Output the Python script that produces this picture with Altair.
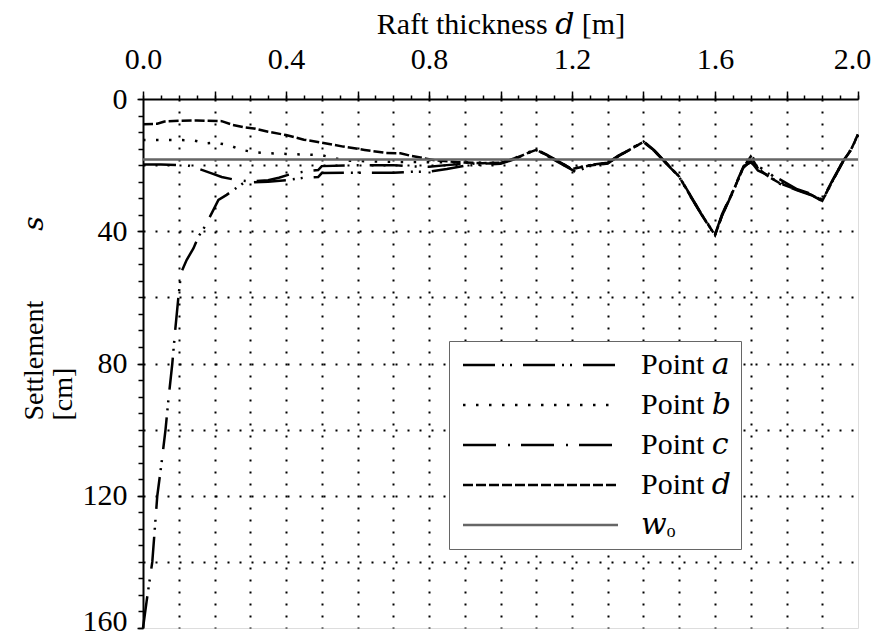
import altair as alt
import pandas as pd

# ---------------- data ----------------
series_names = ["Point 𝑎", "Point 𝑏", "Point 𝑐", "Point 𝑑", "𝑤ₒ"]

# Point a : steep curve starting at 160 cm
a_d = [0.0, 0.01, 0.026, 0.04, 0.052, 0.063, 0.072, 0.082, 0.09, 0.099, 0.105,
       0.108, 0.122, 0.141, 0.155, 0.173, 0.192, 0.211, 0.234, 0.26, 0.28, 0.3,
       0.35, 0.4, 0.45, 0.49, 0.5, 0.6, 0.7, 0.75, 0.8, 0.85, 0.9, 0.95, 1.0,
       1.04, 1.07, 1.1, 1.13, 1.16, 1.21, 1.25, 1.3, 1.33, 1.36, 1.4, 1.43, 1.46,
       1.5, 1.53, 1.56, 1.6, 1.62, 1.65, 1.68, 1.7, 1.72, 1.75, 1.78, 1.83, 1.87,
       1.9, 1.93, 1.96, 1.98, 2.0]
a_s = [160, 152, 140, 120, 110, 100, 90, 80, 70, 60, 54,
       52.2, 48.7, 45.2, 41.6, 38.6, 34.6, 30.5, 29.0, 27.0, 25.5, 25.2,
       25.0, 24.6, 23.8, 23.6, 22.4, 22.3, 22.3, 22.0, 22.0, 21.2, 20.2, 19.8, 19.6,
       18.2, 16.6, 15.5, 17.1, 19.0, 22.0, 20.3, 19.5, 17.3, 15.5, 12.9, 15.7, 19.1,
       23.6, 29.2, 34.6, 41.3, 35.2, 28.1, 20.7, 18.8, 21.6, 23.2, 25.6, 27.6, 29.1,
       30.9, 24.6, 18.6, 15.5, 10.9]

# Point b : dotted curve starting at ~12 cm
b_d = [0.0, 0.05, 0.1, 0.14, 0.178, 0.2, 0.239, 0.276, 0.31, 0.35, 0.4, 0.45,
       0.5, 0.54, 0.58, 0.7, 0.8, 0.9, 1.0,
       1.04, 1.07, 1.1, 1.13, 1.16, 1.2, 1.25, 1.3, 1.33, 1.36, 1.4, 1.43, 1.46,
       1.5, 1.53, 1.56, 1.6, 1.62, 1.65, 1.68, 1.7, 1.72, 1.75, 1.78, 1.83, 1.87,
       1.9, 1.93, 1.96, 1.98, 2.0]
b_s = [12.4, 12.4, 12.4, 12.5, 13.4, 13.2, 13.9, 15.4, 16.1, 16.4, 16.6, 16.8,
       17.0, 18.0, 18.7, 19.0, 19.1, 19.2, 19.3,
       18.0, 16.5, 15.4, 17.0, 18.8, 21.1, 20.0, 19.4, 17.2, 15.4, 12.9, 15.6, 19.0,
       23.5, 29.0, 34.5, 41.1, 35.0, 28.0, 20.5, 16.5, 20.4, 22.2, 25.0, 27.4, 28.9,
       30.7, 24.5, 18.5, 15.4, 10.8]

# Point c : curve starting at ~20 cm, dipping to ~25 cm
c_d = [0.0, 0.05, 0.1, 0.13, 0.15, 0.19, 0.22, 0.26, 0.3, 0.35, 0.38, 0.42, 0.46,
       0.49, 0.5, 0.6, 0.7, 0.75, 0.8, 0.85, 0.9, 0.95, 1.0,
       1.04, 1.07, 1.1, 1.13, 1.16, 1.2, 1.25, 1.3, 1.33, 1.36, 1.4, 1.43, 1.46,
       1.5, 1.53, 1.56, 1.6, 1.62, 1.65, 1.68, 1.7, 1.72, 1.75, 1.78, 1.83, 1.87,
       1.9, 1.93, 1.96, 1.98, 2.0]
c_s = [19.8, 19.8, 20.0, 20.2, 20.9, 22.4, 23.6, 24.5, 24.9, 24.6, 23.8, 22.5, 21.8,
       21.5, 20.3, 20.0, 20.0, 20.4, 20.5, 20.0, 19.6, 19.5, 19.4,
       17.9, 16.4, 15.3, 16.9, 18.7, 21.2, 19.9, 19.3, 17.1, 15.3, 12.8, 15.5, 18.9,
       23.4, 28.9, 34.4, 41.0, 34.8, 27.8, 20.3, 19.2, 20.8, 22.6, 24.2, 27.3, 28.7,
       30.5, 24.3, 18.4, 15.3, 10.7]

# Point d : dashed curve starting at ~7.6 cm
d_d = [0.0, 0.04, 0.06, 0.1, 0.15, 0.22, 0.25, 0.28, 0.31, 0.35, 0.4, 0.45, 0.5,
       0.56, 0.62, 0.68, 0.72, 0.75, 0.78, 0.82, 0.88, 0.95, 1.0,
       1.04, 1.07, 1.1, 1.13, 1.16, 1.2, 1.25, 1.3, 1.33, 1.36, 1.4, 1.43, 1.46,
       1.5, 1.53, 1.56, 1.6, 1.62, 1.65, 1.68, 1.7, 1.72, 1.75, 1.78, 1.83, 1.87,
       1.9, 1.93, 1.96, 1.98, 2.0]
d_s = [7.6, 7.5, 6.8, 6.6, 6.5, 6.7, 7.8, 8.5, 8.9, 9.9, 10.9, 12.3, 13.2,
       14.4, 15.4, 16.3, 16.4, 17.2, 17.8, 18.6, 19.1, 19.4, 19.3,
       18.1, 16.6, 15.4, 17.0, 18.9, 21.2, 20.1, 19.4, 17.2, 15.4, 13.0, 15.6, 19.0,
       23.5, 29.1, 34.5, 41.2, 35.1, 28.0, 20.6, 17.4, 21.0, 23.5, 25.4, 27.5, 29.0,
       30.8, 24.5, 18.5, 15.4, 10.8]

# w_o : reference settlement (horizontal line)
w_d = [0.0, 2.0]
w_s = [18.3, 18.3]

x_label_ticks = [0.0, 0.2, 0.4, 0.6, 0.8, 1.0, 1.2, 1.4, 1.6, 1.8, 2.0]
x_minor_ticks = [round(0.05 * i, 2) for i in range(41)]
x_grid = [round(0.1 * i, 1) for i in range(1, 20)]
y_label_ticks = [0, 40, 80, 120, 160]
y_minor_ticks = list(range(0, 161, 5))
y_grid = [20, 40, 60, 80, 100, 120, 140]

rows = []
for name, xs, ys in zip(series_names, [a_d, b_d, c_d, d_d, w_d], [a_s, b_s, c_s, d_s, w_s]):
    for xv, yv in zip(xs, ys):
        rows.append({"series": name, "d": xv, "s": yv})
df = pd.DataFrame(rows)

FONT = "Liberation Serif, DejaVu Serif, serif"
xscale = alt.Scale(domain=[0, 2], nice=False, zero=False)
yscale = alt.Scale(domain=[0, 160], nice=False, reverse=True)

dash_range = [[32, 7, 2, 6, 2, 11], [2.5, 10.5], [33, 12, 2, 11], [10, 3], [1, 0]]
color_range = ["black", "black", "black", "black", "#666666"]
width_range = [2.5, 2.5, 2.5, 2.5, 1.5]

legend = alt.Legend(
    orient="none", legendX=306, legendY=242, title=None,
    symbolType="M-1,0H14.5", symbolSize=400, symbolStrokeWidth=2.5,
    labelOffset=153, labelFontSize=30, labelFont=FONT, labelColor="black",
    labelLimit=300, padding=9, rowPadding=10,
    strokeColor="#666666", fillColor="white",
)

main_x = alt.Axis(
    orient="top", values=x_label_ticks,
    labelExpr="abs(datum.value/0.4 - round(datum.value/0.4)) < 0.001 ? format(datum.value, '.1f') : ''",
    labelOffset={"condition": {"test": "datum.value > 1.9", "value": -6}, "value": 0},
    tickSize=8, tickWidth=1.5, tickColor="black",
    domainColor="black", domainWidth=2,
    labelFontSize=30, labelPadding=17, labelFlush=False, labelOverlap=False,
    labelColor="black", labelFont=FONT,
    title="Raft thickness 𝑑 [m]", titleFontSize=30, titleFontWeight="normal",
    titlePadding=5, titleColor="black", titleFont=FONT, grid=False,
)
main_y = alt.Axis(
    orient="left", values=y_label_ticks,
    labelOffset={"condition": {"test": "datum.value > 150", "value": -7}, "value": 0},
    tickSize=6, tickWidth=1.5, tickColor="black",
    domainColor="black", domainWidth=2,
    labelFontSize=30, labelPadding=10, labelFlush=False, labelOverlap=False,
    labelColor="black", labelFont=FONT,
    title=["Settlement\u2003\u2003\u2002𝑠", "[cm]"], titleFontSize=28,
    titleFontWeight="normal", titleLineHeight=29, titleAlign="left", titleY=321,
    titlePadding=5, titleColor="black", titleFont=FONT, grid=False,
)
minor_x = alt.Axis(orient="top", values=x_minor_ticks, tickSize=4, tickWidth=1.5,
                   tickColor="black", labels=False, domain=False, title=None, grid=False)
minor_y = alt.Axis(orient="left", values=y_minor_ticks, tickSize=5, tickWidth=1.5,
                   tickColor="black", labels=False, domain=False, title=None, grid=False)
grid_x = alt.Axis(orient="top", values=x_grid, grid=True, gridDash=[2, 10], gridColor="black",
                  gridWidth=2, gridOpacity=1, ticks=False, labels=False, domain=False, title=None)
grid_y = alt.Axis(orient="left", values=y_grid, grid=True, gridDash=[2, 10], gridColor="black",
                  gridWidth=2, gridOpacity=1, ticks=False, labels=False, domain=False, title=None)

base = alt.Chart(df)

grid_layer = base.mark_point(opacity=0).encode(
    x=alt.X("d:Q", scale=xscale, axis=grid_x),
    y=alt.Y("s:Q", scale=yscale, axis=grid_y),
)
lines = base.mark_line(strokeCap="butt").encode(
    x=alt.X("d:Q", scale=xscale, axis=main_x),
    y=alt.Y("s:Q", scale=yscale, axis=main_y),
    color=alt.Color("series:N", scale=alt.Scale(domain=series_names, range=color_range), legend=legend),
    strokeDash=alt.StrokeDash("series:N", scale=alt.Scale(domain=series_names, range=dash_range), legend=legend),
    strokeWidth=alt.StrokeWidth("series:N", scale=alt.Scale(domain=series_names, range=width_range), legend=legend),
)
minor_layer = base.mark_point(opacity=0).encode(
    x=alt.X("d:Q", scale=xscale, axis=minor_x),
    y=alt.Y("s:Q", scale=yscale, axis=minor_y),
)

chart = alt.layer(grid_layer, lines, minor_layer).resolve_axis(
    x="independent", y="independent"
).properties(
    width=715, height=529,
    autosize=alt.AutoSizeParams(type="none"),
    padding={"left": 135, "top": 91, "right": 13, "bottom": 5},
    background="white",
).configure_view(stroke="black", strokeWidth=2).configure(font=FONT)

chart.save("out.html", embed_options={"renderer": "svg", "actions": False})
